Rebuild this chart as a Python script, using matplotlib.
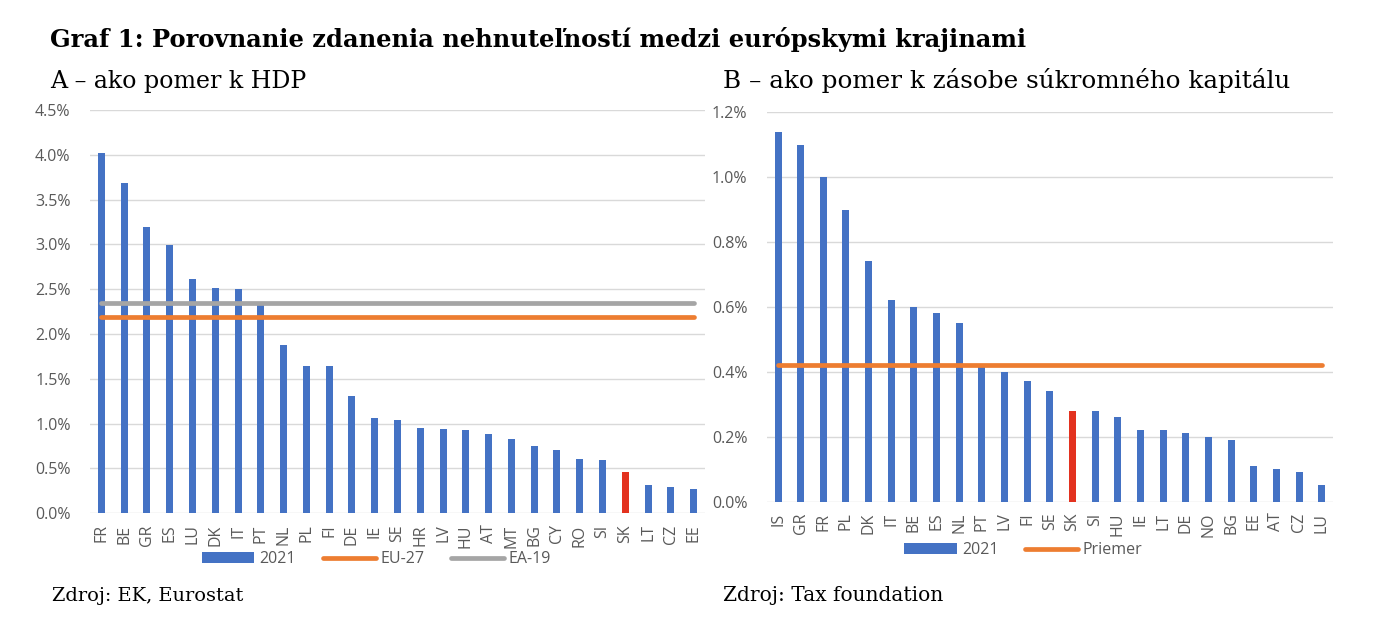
import matplotlib
matplotlib.use("Agg")
import matplotlib.pyplot as plt
from matplotlib.patches import Patch
from matplotlib.lines import Line2D
from matplotlib.ticker import FuncFormatter, MultipleLocator

# ---------------- data ----------------
countries_a = ["FR", "BE", "GR", "ES", "LU", "DK", "IT", "PT", "NL", "PL", "FI", "DE", "IE", "SE",
               "HR", "LV", "HU", "AT", "MT", "BG", "CY", "RO", "SI", "SK", "LT", "CZ", "EE"]
values_a = [4.02, 3.69, 3.19, 2.99, 2.61, 2.51, 2.50, 2.33, 1.88, 1.64, 1.64, 1.31, 1.06, 1.04,
            0.95, 0.94, 0.93, 0.88, 0.83, 0.75, 0.71, 0.61, 0.60, 0.46, 0.32, 0.29, 0.27]
eu27_a = 2.19
ea19_a = 2.35

countries_b = ["IS", "GR", "FR", "PL", "DK", "IT", "BE", "ES", "NL", "PT", "LV", "FI", "SE", "SK",
               "SI", "HU", "IE", "LT", "DE", "NO", "BG", "EE", "AT", "CZ", "LU"]
values_b = [1.14, 1.10, 1.00, 0.90, 0.74, 0.62, 0.60, 0.58, 0.55, 0.42, 0.40, 0.37, 0.34, 0.28,
            0.28, 0.26, 0.22, 0.22, 0.21, 0.20, 0.19, 0.11, 0.10, 0.09, 0.05]
priemer_b = 0.42

highlight = "SK"

# ---------------- style ----------------
BLUE = "#4472C4"
ORANGE = "#ED7D31"
GRAY = "#A5A5A5"
RED = "#E3321F"
GRID = "#D9D9D9"
TXT = "#595959"
SANS = ["Open Sans", "DejaVu Sans"]
SERIF = ["DejaVu Serif"]
TICK_FS = 11.5

W, H = 1388, 626
fig = plt.figure(figsize=(W / 100, H / 100), dpi=100)


def px_axes(left, right, top, bottom):
    return fig.add_axes([left / W, 1 - bottom / H, (right - left) / W, (bottom - top) / H])


def style_axes(ax, ymax, step, fmt):
    ax.set_ylim(0, ymax)
    ax.yaxis.set_major_locator(MultipleLocator(step))
    ax.yaxis.set_major_formatter(FuncFormatter(lambda v, p: fmt.format(v)))
    ax.grid(axis="y", color=GRID, linewidth=1.0)
    ax.set_axisbelow(True)
    for s in ax.spines.values():
        s.set_visible(False)
    ax.tick_params(axis="both", length=0, colors=TXT, labelsize=TICK_FS)
    ax.tick_params(axis="y", pad=14)
    ax.tick_params(axis="x", pad=8)
    for lab in ax.get_xticklabels() + ax.get_yticklabels():
        lab.set_fontfamily(SANS)


def draw_panel(ax, countries, values, ymax, step, fmt, lines):
    x = list(range(len(countries)))
    colors = [RED if c == highlight else BLUE for c in countries]
    ax.bar(x, values, width=0.31, color=colors, zorder=2)
    for val, col in lines:
        ax.plot([x[0], x[-1]], [val, val], color=col, linewidth=3.4,
                solid_capstyle="round", zorder=3)
    ax.set_xlim(-0.5, len(countries) - 0.5)
    ax.set_xticks(x)
    ax.set_xticklabels(countries, rotation=90)
    style_axes(ax, ymax, step, fmt)


# Panel A
ax_a = px_axes(90, 705, 110, 513.3)
draw_panel(ax_a, countries_a, values_a, 4.5, 0.5, "{:.1f}%",
           [(ea19_a, GRAY), (eu27_a, ORANGE)])

# Panel B
ax_b = px_axes(766.7, 1333, 112.3, 501.5)
draw_panel(ax_b, countries_b, values_b, 1.2, 0.2, "{:.1f}%", [(priemer_b, ORANGE)])

# Legends
leg_kw = dict(loc="center", frameon=False, handlelength=3.3, handleheight=0.65,
              handletextpad=0.3, columnspacing=1.7,
              prop={"family": SANS, "size": TICK_FS}, labelcolor=TXT)
h_bar = Patch(facecolor=BLUE, edgecolor="none")
h_eu = Line2D([], [], color=ORANGE, linewidth=3.4, solid_capstyle="round")
h_ea = Line2D([], [], color=GRAY, linewidth=3.4, solid_capstyle="round")
fig.legend([h_bar, h_eu, h_ea], ["2021", "EU-27", "EA-19"], ncol=3,
           bbox_to_anchor=(376.5 / W, 1 - 559 / H), **leg_kw)
fig.legend([h_bar, h_eu], ["2021", "Priemer"], ncol=2,
           bbox_to_anchor=(1023.5 / W, 1 - 550 / H), **leg_kw)

# Titles and sources (font size fitted to the reference text width)
renderer = fig.canvas.get_renderer()


def fitted_text(x0, x1, baseline, s, size, **kw):
    t = fig.text(x0 / W, 1 - baseline / H, s, fontfamily=SERIF, fontsize=size,
                 va="baseline", ha="left", color="black", **kw)
    w = t.get_window_extent(renderer=renderer).width
    t.set_fontsize(size * (x1 - x0) / w)
    return t


fitted_text(50, 1028, 46.7, "Graf 1: Porovnanie zdanenia nehnuteľností medzi európskymi krajinami",
            18, fontweight="bold")
fitted_text(50, 308, 88.3, "A – ako pomer k HDP", 18)
fitted_text(723, 1290, 88.3, "B – ako pomer k zásobe súkromného kapitálu", 18)
fitted_text(51.7, 243, 600.7, "Zdroj: EK, Eurostat", 15)
fitted_text(722.7, 942.7, 600.7, "Zdroj: Tax foundation", 15)

fig.savefig("out.png", dpi=100, facecolor="white")
